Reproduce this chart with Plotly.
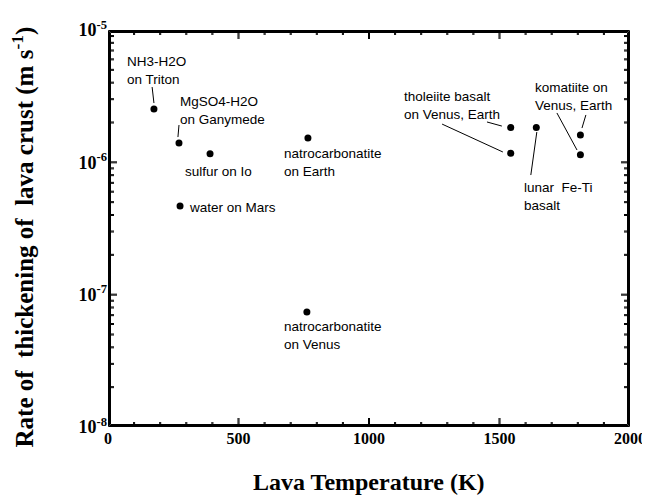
import plotly.graph_objects as go

# ---- data ----
temps = [176, 272, 391, 766, 276, 762, 1543, 1543, 1641, 1810, 1810]
rates = [2.53e-6, 1.40e-6, 1.16e-6, 1.53e-6, 4.67e-7, 7.4e-8,
         1.83e-6, 1.17e-6, 1.83e-6, 1.61e-6, 1.14e-6]

label_texts = ["NH3-H2O<br>on Triton", "MgSO4-H2O<br>on Ganymede", "sulfur on Io",
               "natrocarbonatite<br>on Earth", "water on Mars",
               "natrocarbonatite<br>on Venus", "tholeiite basalt<br>on Venus, Earth",
               "lunar  Fe-Ti<br>basalt", "komatiite on<br>Venus, Earth"]
label_x = [65, 268, 287, 667, 303, 667, 1126, 1586, 1628]
label_logy = [-5.306, -5.612, -6.073, -5.998, -6.338, -7.305, -5.567, -6.258, -5.506]

# leader lines: (x0, rate0, x1, rate1)
leaders = [
    (169, 10**-5.431, 176, 10**-5.552),
    (272, 10**-5.718, 268, 10**-5.809),
    (1452, 10**-5.695, 1509, 10**-5.726),
    (1280, 10**-5.711, 1513, 10**-5.922),
    (1620, 10**-6.096, 1643, 10**-5.771),
    (1831, 10**-5.642, 1816, 10**-5.741),
    (1720, 10**-5.627, 1797, 10**-5.907),
]

x_range = [0, 2000]
y_range_log = [-8, -5]
x_tickvals = [0, 500, 1000, 1500, 2000]
x_ticktext = ["<b>0</b>", "<b>500</b>", "<b>1000</b>", "<b>1500</b>", "<b>2000</b>"]
x_minor = [v for v in range(100, 2000, 100) if v % 500 != 0]
y_tickvals = [1e-8, 1e-7, 1e-6, 1e-5]
y_ticktext = ["<b>10<sup>-8</sup></b>", "<b>10<sup>-7</sup></b>",
              "<b>10<sup>-6</sup></b>", "<b>10<sup>-5</sup></b>"]
y_minor = [m * 10.0**e for e in (-8, -7, -6) for m in range(2, 10)]

# ---- layout geometry (page body adds an 8px offset, so size to fit) ----
W, H = 642, 491
ML, MR, MT, MB = 100, 20, 22, 72
plot_w = W - ML - MR
plot_h = H - MT - MB
k_per_px = (x_range[1] - x_range[0]) / plot_w
dec_per_px = (y_range_log[1] - y_range_log[0]) / plot_h
ymin, ymax = 10.0**y_range_log[0], 10.0**y_range_log[1]

fig = go.Figure()


def seg(xs, ys):
    fig.add_trace(go.Scatter(x=xs, y=ys, mode="lines", line=dict(color="black", width=1),
                             hoverinfo="skip", showlegend=False))


for (x0, y0, x1, y1) in leaders:
    seg([x0, x1], [y0, y1])

# ---- frame: parallel thin rectangles just inside the plot edge ----
for d in (0.5, 1.5, 2.5):
    xa, xb = x_range[0] + d * k_per_px, x_range[1] - d * k_per_px
    ya, yb = ymin * 10.0**(d * dec_per_px), ymax / 10.0**(d * dec_per_px)
    seg([xa, xb, xb, xa, xa], [ya, ya, yb, yb, ya])


# ---- inward ticks on all four sides, each two pixels wide ----
def x_ticks(values, length_px):
    up = 10.0**(length_px * dec_per_px)
    for v in values:
        for o in (-0.5, 0.5):
            xv = v + o * k_per_px
            seg([xv, xv], [ymin, ymin * up])
            seg([xv, xv], [ymax, ymax / up])


def y_ticks(values, length_px):
    dx = length_px * k_per_px
    for v in values:
        for o in (-0.5, 0.5):
            yv = v * 10.0**(o * dec_per_px)
            seg([x_range[0], x_range[0] + dx], [yv, yv])
            seg([x_range[1], x_range[1] - dx], [yv, yv])


x_ticks(x_tickvals[1:-1], 9)
x_ticks(x_minor, 5)
y_ticks(y_tickvals[1:-1], 9)
y_ticks(y_minor, 6)

fig.add_trace(go.Scatter(x=temps, y=rates, mode="markers",
                         marker=dict(color="black", size=7), showlegend=False))

for t, x, ly in zip(label_texts, label_x, label_logy):
    fig.add_annotation(x=x, y=ly, xref="x", yref="y", text=t, showarrow=False,
                       xanchor="left", yanchor="middle", align="left",
                       font=dict(family="Liberation Sans, Arial", size=13.5, color="black"))

serif = "Liberation Serif, Times New Roman, serif"

fig.update_layout(
    xaxis=dict(range=x_range, showline=False, ticks="",
               tickmode="array", tickvals=x_tickvals, ticktext=x_ticktext,
               showgrid=False, zeroline=False, automargin=False,
               tickfont=dict(family=serif, size=16, color="black")),
    yaxis=dict(type="log", range=y_range_log, showline=False, ticks="",
               tickmode="array", tickvals=y_tickvals, ticktext=y_ticktext,
               showgrid=False, zeroline=False, automargin=False,
               tickfont=dict(family=serif, size=18, color="black")),
)

fig.add_annotation(x=0.5, y=0, xref="paper", yref="paper", yshift=-55,
                   text="<b>Lava Temperature (K)</b>", showarrow=False,
                   xanchor="center", yanchor="middle",
                   font=dict(family=serif, size=24, color="black"))
fig.add_annotation(x=0, y=0.5, xref="paper", yref="paper", xshift=-85, yshift=-9,
                   text="<b>Rate of  thickening of  lava crust (m s<sup>-1</sup>)</b>",
                   showarrow=False, textangle=-90, xanchor="center", yanchor="middle",
                   font=dict(family=serif, size=25, color="black"))

fig.update_layout(width=W, height=H, margin=dict(l=ML, r=MR, t=MT, b=MB),
                  plot_bgcolor="white", paper_bgcolor="white", showlegend=False)

fig.write_html("out.html")
